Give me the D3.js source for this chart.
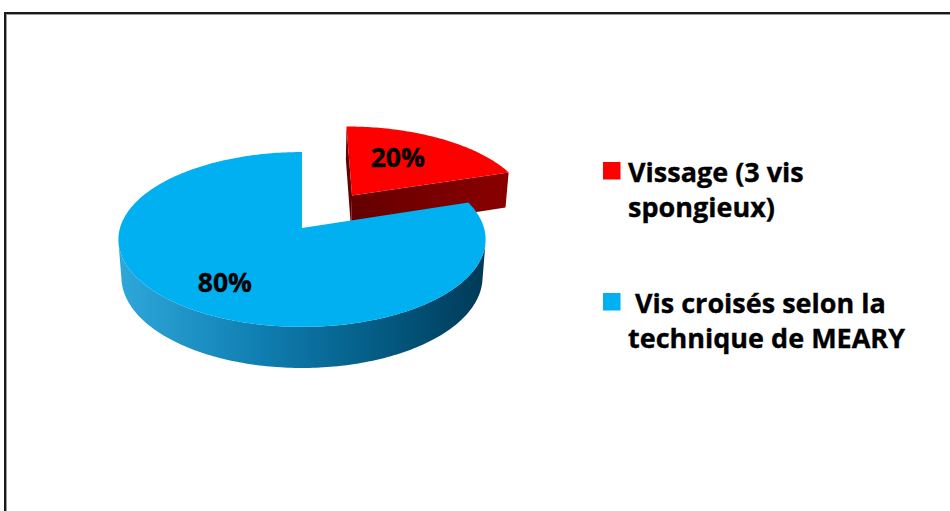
<!DOCTYPE html>
<html>
<head>
<meta charset="utf-8">
<script src="https://cdn.jsdelivr.net/npm/d3@7"></script>
<style>
  body { margin: 0; background: #fff; }
  text { font-family: "Open Sans", Lato, sans-serif; font-weight: bold; stroke: #000; stroke-width: 0.35px; }
</style>
</head>
<body>
<script>
// 3D exploded pie: type de fixation

var sliceNames = ["Vissage (3 vis spongieux)", "Vis croisés selon la technique de MEARY"];
var sliceValues = [20, 80];
var legendLines = [["Vissage (3 vis", "spongieux)"], [" Vis croisés selon la", "technique de MEARY"]];

// styles / layout (not data)
var topColors = ["#ff0000", "#00b0f0"];
var sideGrads = ["redSide", "blueSide"];
var explode = [0.492, 0];
var labelSpot = [{da: -6, t: 0.6}, {da: -2, t: 0.7}];

var width = 950, height = 511;

var svg = d3.select("body").append("svg")
    .attr("width", width)
    .attr("height", height);

// gradients for the walls
var defs = svg.append("defs");
var g1 = defs.append("linearGradient").attr("id", "blueSide")
    .attr("gradientUnits", "userSpaceOnUse")
    .attr("x1", 117).attr("y1", 0).attr("x2", 482).attr("y2", 0);
g1.append("stop").attr("offset", "0%").attr("stop-color", "#2fa8db");
g1.append("stop").attr("offset", "40%").attr("stop-color", "#0f7db0");
g1.append("stop").attr("offset", "75%").attr("stop-color", "#03587f");
g1.append("stop").attr("offset", "100%").attr("stop-color", "#003a58");
var g2 = defs.append("linearGradient").attr("id", "redSide")
    .attr("gradientUnits", "userSpaceOnUse")
    .attr("x1", 350).attr("y1", 0).attr("x2", 510).attr("y2", 0);
g2.append("stop").attr("offset", "0%").attr("stop-color", "#640000");
g2.append("stop").attr("offset", "100%").attr("stop-color", "#8a0000");

// frame
svg.append("rect")
    .attr("x", 5).attr("y", 13)
    .attr("width", 1000).attr("height", 600)
    .attr("fill", "none")
    .attr("stroke", "#1a1a1a")
    .attr("stroke-width", 2);
svg.append("rect")
    .attr("x", 6.5).attr("y", 14.5)
    .attr("width", 1000).attr("height", 600)
    .attr("fill", "none")
    .attr("stroke", "#9a9a9a")
    .attr("stroke-width", 1);

// perspective camera looking down at the disc
var cx = 302, cy = 228, F = 1225, D = 6.73;
var sinP = 0.472, cosP = Math.sqrt(1 - sinP * sinP);
var depth = 0.237;
var cam = [0, D * sinP, -D * cosP];

function project(x, y, z) {
    var w = D + z * cosP - y * sinP;
    var v = y * cosP + z * sinP;
    return [cx + F * x / w, cy - F * v / w];
}
function facing(n, p) {
    return n[0] * (cam[0] - p[0]) + n[1] * (cam[1] - p[1]) + n[2] * (cam[2] - p[2]) > 0;
}

var pie = d3.pie().sort(null).value(function(d) { return d; });
var arcs = pie(sliceValues);
var total = d3.sum(sliceValues);
var line = d3.line();

var pieG = svg.append("g");

arcs.forEach(function(a, i) {
    var mid = (a.startAngle + a.endAngle) / 2;
    var ox = explode[i] * Math.sin(mid), oz = explode[i] * Math.cos(mid);
    function pt(ang, r, y) {
        return project(ox + r * Math.sin(ang), y, oz + r * Math.cos(ang));
    }
    var n = Math.max(8, Math.round((a.endAngle - a.startAngle) * 180 / Math.PI));
    var angs = d3.range(n + 1).map(function(k) {
        return a.startAngle + (a.endAngle - a.startAngle) * k / n;
    });
    var g = pieG.append("g");

    // radial faces
    [[a.startAngle, -1], [a.endAngle, 1]].forEach(function(e) {
        var s = e[0];
        var nrm = [e[1] * Math.cos(s), 0, -e[1] * Math.sin(s)];
        var p = [ox + 0.5 * Math.sin(s), -depth / 2, oz + 0.5 * Math.cos(s)];
        if (!facing(nrm, p)) return;
        g.append("path")
            .attr("d", line([pt(s, 0, 0), pt(s, 1, 0), pt(s, 1, -depth), pt(s, 0, -depth)]) + "Z")
            .attr("fill", "url(#" + sideGrads[i] + ")");
    });

    // outer wall, only the segments turned to the camera
    var runs = [], cur = null;
    for (var k = 0; k < n; k++) {
        var m = (angs[k] + angs[k + 1]) / 2;
        var vis = facing([Math.sin(m), 0, Math.cos(m)],
            [ox + Math.sin(m), -depth / 2, oz + Math.cos(m)]);
        if (vis) {
            if (!cur) { cur = [k]; runs.push(cur); }
            cur[1] = k + 1;
        } else cur = null;
    }
    runs.forEach(function(r) {
        var sub = angs.slice(r[0], r[1] + 1);
        var pts = sub.map(function(t) { return pt(t, 1, 0); })
            .concat(sub.slice().reverse().map(function(t) { return pt(t, 1, -depth); }));
        g.append("path")
            .attr("d", line(pts) + "Z")
            .attr("fill", "url(#" + sideGrads[i] + ")");
    });

    // top face
    var topPts = [pt(0, 0, 0)].concat(angs.map(function(t) { return pt(t, 1, 0); }));
    g.append("path")
        .attr("d", line(topPts) + "Z")
        .attr("fill", topColors[i]);
});

// percentage labels
arcs.forEach(function(a, i) {
    var mid = (a.startAngle + a.endAngle) / 2;
    var ox = explode[i] * Math.sin(mid), oz = explode[i] * Math.cos(mid);
    var ang = mid + labelSpot[i].da * Math.PI / 180;
    var p = project(ox + labelSpot[i].t * Math.sin(ang), 0, oz + labelSpot[i].t * Math.cos(ang));
    svg.append("text")
        .attr("x", p[0])
        .attr("y", p[1])
        .attr("dy", "0.36em")
        .attr("text-anchor", "middle")
        .style("font-size", "26.5px")
        .attr("fill", "#000")
        .text(Math.round(a.value / total * 100) + "%");
});

// legend
var legend = svg.append("g").attr("transform", "translate(603,162)");
var item = legend.selectAll(".item")
    .data(sliceNames)
    .enter().append("g")
    .attr("class", "item")
    .attr("transform", function(d, i) { return "translate(0," + (i * 131) + ")"; });
item.append("rect")
    .attr("width", 17.5)
    .attr("height", 17.5)
    .attr("fill", function(d, i) { return topColors[i]; })
    .attr("stroke", "none");
item.append("text")
    .attr("x", 25)
    .attr("y", 20)
    .style("font-size", "27px")
    .style("white-space", "pre")
    .attr("fill", "#000")
    .selectAll("tspan")
    .data(function(d, i) { return legendLines[i]; })
    .enter().append("tspan")
    .attr("x", 25)
    .attr("dy", function(d, j) { return j ? 35 : 0; })
    .text(function(d) { return d; });
</script>
</body>
</html>
